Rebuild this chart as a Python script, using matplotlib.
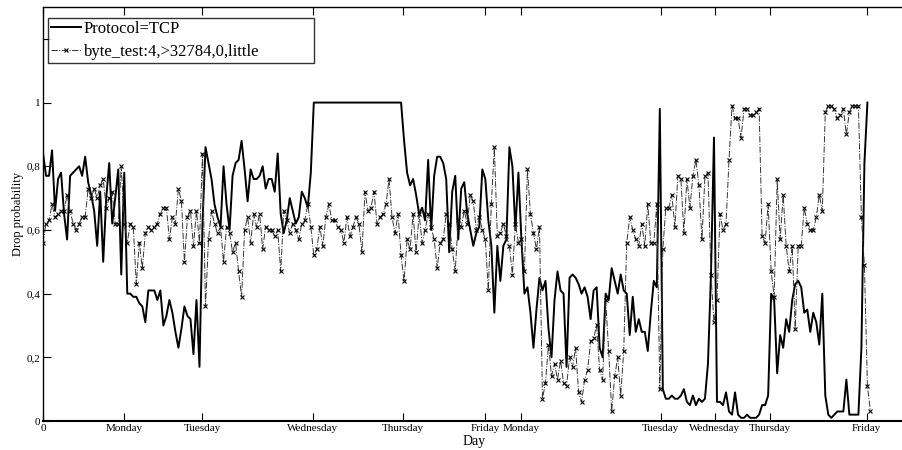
import numpy as np
import matplotlib
matplotlib.use("Agg")
import matplotlib.pyplot as plt

plt.rcParams['font.family'] = ['Liberation Serif', 'DejaVu Serif']

# drop probability per sample
tcp = [0.84, 0.77, 0.77, 0.85, 0.66, 0.76, 0.78, 0.65, 0.57, 0.77,
       0.78, 0.79, 0.80, 0.77, 0.83, 0.75, 0.71, 0.66, 0.55, 0.72,
       0.50, 0.70, 0.81, 0.62, 0.70, 0.79, 0.46, 0.78, 0.40, 0.40,
       0.39, 0.39, 0.37, 0.36, 0.31, 0.41, 0.41, 0.41, 0.38, 0.41,
       0.30, 0.33, 0.38, 0.34, 0.28, 0.23, 0.29, 0.36, 0.33, 0.32,
       0.21, 0.38, 0.17, 0.62, 0.86, 0.81, 0.76, 0.68, 0.64, 0.61,
       0.80, 0.68, 0.60, 0.77, 0.81, 0.82, 0.88, 0.79, 0.69, 0.79,
       0.76, 0.76, 0.77, 0.80, 0.73, 0.76, 0.76, 0.72, 0.84, 0.65,
       0.59, 0.63, 0.70, 0.66, 0.62, 0.64, 0.72, 0.70, 0.67, 0.78,
       1.0, 1.0, 1.0, 1.0, 1.0, 1.0, 1.0, 1.0, 1.0, 1.0,
       1.0, 1.0, 1.0, 1.0, 1.0, 1.0, 1.0, 1.0, 1.0, 1.0,
       1.0, 1.0, 1.0, 1.0, 1.0, 1.0, 1.0, 1.0, 1.0, 1.0,
       0.88, 0.78, 0.74, 0.76, 0.71, 0.65, 0.67, 0.63, 0.82, 0.60,
       0.77, 0.83, 0.83, 0.81, 0.76, 0.53, 0.72, 0.77, 0.57, 0.73,
       0.75, 0.65, 0.60, 0.55, 0.59, 0.61, 0.79, 0.76, 0.63, 0.55,
       0.34, 0.55, 0.44, 0.55, 0.57, 0.86, 0.80, 0.60, 0.78, 0.57,
       0.40, 0.42, 0.34, 0.23, 0.35, 0.45, 0.41, 0.44, 0.29, 0.20,
       0.38, 0.47, 0.41, 0.40, 0.17, 0.45, 0.46, 0.45, 0.43, 0.40,
       0.42, 0.39, 0.32, 0.41, 0.42, 0.23, 0.20, 0.40, 0.38, 0.48,
       0.44, 0.40, 0.46, 0.41, 0.40, 0.27, 0.39, 0.28, 0.32, 0.28,
       0.28, 0.22, 0.34, 0.44, 0.42, 0.98, 0.10, 0.07, 0.07, 0.08,
       0.07, 0.07, 0.08, 0.10, 0.06, 0.05, 0.08, 0.05, 0.07, 0.06,
       0.07, 0.18, 0.46, 0.89, 0.06, 0.06, 0.05, 0.09, 0.03, 0.02,
       0.09, 0.02, 0.01, 0.01, 0.02, 0.01, 0.01, 0.01, 0.02, 0.05,
       0.05, 0.08, 0.40, 0.38, 0.15, 0.27, 0.23, 0.32, 0.28, 0.38,
       0.43, 0.44, 0.42, 0.34, 0.35, 0.28, 0.34, 0.31, 0.24, 0.40,
       0.08, 0.02, 0.01, 0.02, 0.03, 0.03, 0.03, 0.13, 0.02, 0.02,
       0.02, 0.02, 0.23, 0.81, 1.0]

byte_test = [0.56, 0.62, 0.63, 0.68, 0.64, 0.65, 0.66, 0.66, 0.71, 0.66,
             0.62, 0.60, 0.62, 0.64, 0.64, 0.73, 0.70, 0.73, 0.70, 0.74,
             0.76, 0.67, 0.70, 0.72, 0.62, 0.62, 0.80, 0.62, 0.56, 0.62,
             0.61, 0.43, 0.56, 0.48, 0.59, 0.61, 0.60, 0.61, 0.62, 0.65,
             0.67, 0.67, 0.57, 0.64, 0.62, 0.73, 0.69, 0.50, 0.64, 0.66,
             0.55, 0.66, 0.56, 0.84, 0.36, 0.57, 0.66, 0.62, 0.59, 0.61,
             0.50, 0.61, 0.59, 0.53, 0.56, 0.47, 0.39, 0.60, 0.64, 0.56,
             0.65, 0.61, 0.65, 0.54, 0.61, 0.60, 0.60, 0.58, 0.60, 0.47,
             0.66, 0.63, 0.59, 0.62, 0.60, 0.57, 0.62, 0.63, 0.68, 0.61,
             0.52, 0.54, 0.61, 0.55, 0.64, 0.68, 0.63, 0.63, 0.61, 0.60,
             0.56, 0.64, 0.58, 0.61, 0.64, 0.62, 0.53, 0.72, 0.66, 0.67,
             0.72, 0.62, 0.64, 0.65, 0.68, 0.76, 0.64, 0.59, 0.65, 0.52,
             0.44, 0.57, 0.54, 0.65, 0.53, 0.65, 0.56, 0.60, 0.65, 0.61,
             0.57, 0.48, 0.56, 0.57, 0.65, 0.62, 0.54, 0.47, 0.63, 0.61,
             0.66, 0.62, 0.71, 0.69, 0.60, 0.64, 0.60, 0.57, 0.41, 0.68,
             0.86, 0.58, 0.59, 0.62, 0.58, 0.55, 0.46, 0.62, 0.56, 0.57,
             0.47, 0.79, 0.65, 0.59, 0.54, 0.61, 0.07, 0.12, 0.24, 0.14,
             0.18, 0.13, 0.19, 0.12, 0.11, 0.20, 0.17, 0.23, 0.09, 0.06,
             0.13, 0.16, 0.25, 0.26, 0.30, 0.16, 0.13, 0.38, 0.22, 0.03,
             0.14, 0.20, 0.08, 0.22, 0.56, 0.64, 0.60, 0.57, 0.55, 0.62,
             0.55, 0.68, 0.56, 0.56, 0.68, 0.10, 0.54, 0.67, 0.67, 0.71,
             0.61, 0.77, 0.76, 0.59, 0.76, 0.67, 0.77, 0.82, 0.74, 0.57,
             0.77, 0.78, 0.46, 0.31, 0.38, 0.65, 0.60, 0.62, 0.82, 0.99,
             0.95, 0.95, 0.89, 0.98, 0.98, 0.96, 0.96, 0.97, 0.98, 0.58,
             0.56, 0.68, 0.47, 0.39, 0.76, 0.57, 0.71, 0.55, 0.47, 0.55,
             0.29, 0.55, 0.55, 0.67, 0.62, 0.60, 0.60, 0.64, 0.71, 0.66,
             0.97, 0.99, 0.99, 0.98, 0.95, 0.96, 0.98, 0.90, 0.97, 0.99,
             0.99, 0.99, 0.64, 0.49, 0.11, 0.03]

day_pos = [0, 27, 53, 89.7, 119.7, 147, 159, 205.3, 223.3, 241.7, 273.7]
day_labels = ['0', 'Monday', 'Tuesday', 'Wednesday', 'Thursday', 'Friday',
              'Monday', 'Tuesday', 'Wednesday', 'Thursday', 'Friday']
y_pos = [0, 0.2, 0.4, 0.6, 0.8, 1.0, 1.2]
y_labels = ['0', '0,2', '0,4', '0,6', '0,8', '1', '']

fig = plt.figure(figsize=(9.02, 4.5), dpi=100)
ax = fig.add_axes([0.0477, 0.0644, 0.955, 0.92])

ax.plot(np.arange(len(tcp)), tcp, color='black', lw=1.4, label='Protocol=TCP')
ax.plot(np.arange(len(byte_test)), byte_test, color='#333333', lw=0.7,
        ls='-.', marker='x', ms=3.5, mew=0.8, mec='black',
        label='byte_test:4,>32784,0,little')

ax.set_xlim(0, 286.3)
ax.set_ylim(0, 1.3)
ax.set_xticks(day_pos)
ax.set_xticklabels(day_labels, fontsize=8)
ax.set_yticks(y_pos)
ax.set_yticklabels(y_labels, fontsize=8)
ax.tick_params(direction='in', top=True, length=5.5, width=0.8, pad=2)
ax.spines['right'].set_visible(False)
for s in ['left', 'bottom', 'top']:
    ax.spines[s].set_linewidth(1.0)
ax.spines['bottom'].set_linewidth(1.5)

ax.set_xlabel('Day', fontsize=10, labelpad=1.5)
ax.set_ylabel('Drop probability', fontsize=9, labelpad=2)

# box spans from x=48 to x=314 px in the reference
leg = ax.legend(loc='upper left', bbox_to_anchor=(0.0058, 0.0, 0.309, 0.974),
                mode='expand', fontsize=12,
                frameon=True, fancybox=False, edgecolor='black',
                handlelength=1.8, handletextpad=0.15, borderpad=0.2,
                labelspacing=0.4, borderaxespad=0)
leg.get_frame().set_linewidth(1.0)

fig.savefig('out.png', dpi=100)
